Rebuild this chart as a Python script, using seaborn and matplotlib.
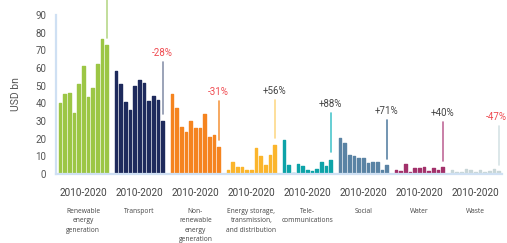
import pandas as pd
import seaborn as sns
import matplotlib.pyplot as plt
import matplotlib.transforms as mtransforms

years = list(range(2010, 2021))
sectors = [
    "Renewable\nenergy\ngeneration",
    "Transport",
    "Non-\nrenewable\nenergy\ngeneration",
    "Energy storage,\ntransmission,\nand distribution",
    "Tele-\ncommunications",
    "Social",
    "Water",
    "Waste",
]
renewable = [40, 45.5, 46, 34.5, 51, 61, 43.5, 48.5, 62, 76.5, 73]
transport = [58.5, 51, 40.5, 36.5, 50, 53, 51.5, 41.5, 44, 42, 30]
non_renewable = [45.5, 37.5, 26.5, 23.5, 30, 26, 26, 34, 21, 22, 15.5]
energy_storage = [2, 7, 4, 4, 2, 2, 15, 10, 5, 10.5, 16.5]
telecom = [19, 5, 0.5, 5.5, 4.5, 2.5, 1.5, 3, 7, 4.5, 8]
social = [20.5, 17.5, 11, 10, 9, 9, 6, 7, 7, 2.5, 5]
water = [2, 1.5, 5.5, 1, 3.5, 3.5, 4, 1.5, 3.5, 2.5, 4]
waste = [2, 1, 1, 3, 2, 1, 2, 1, 1.5, 3, 1.5]
changes = ["", "-28%", "-31%", "+56%", "+88%", "+71%", "+40%", "-47%"]
period = "2010-2020"

series = [renewable, transport, non_renewable, energy_storage, telecom, social, water, waste]

# annotation line extents (bottom, top) in USD bn
line_ext = [(77, 115), (34, 63.5), (19, 41.5), (20.5, 42), (12.5, 34.5), (8.5, 30.5), (7.5, 29.6), (5.3, 27)]

bar_colors = ["#9cc645", "#1e2a5c", "#f5841f", "#fbb52c", "#0da3a8", "#5a83a4", "#a2316b", "#c8d6d8"]
line_colors = ["#b8d88a", "#8a93ab", "#f59a45", "#fdd98a", "#4cc6cc", "#5a83a4", "#c06a98", "#d6e3e5"]

rows = []
for g, (name, vals) in enumerate(zip(sectors, series)):
    for i, (yr, v) in enumerate(zip(years, vals)):
        rows.append({"sector": name, "year": yr, "pos": g * 12 + i, "value": v})
df = pd.DataFrame(rows)

sns.set_style("white")
plt.rcParams["font.family"] = ["Roboto", "DejaVu Sans"]

fig, ax = plt.subplots(figsize=(5.07, 2.43), dpi=100)
fig.subplots_adjust(left=56 / 507, right=502 / 507, bottom=69 / 243, top=228 / 243)

sns.barplot(data=df, x="pos", y="value", hue="sector", palette=bar_colors,
            native_scale=True, dodge=False, width=0.55, errorbar=None,
            saturation=1, legend=False, ax=ax)
for p in ax.patches:
    p.set_edgecolor(p.get_facecolor())
    p.set_linewidth(1.0)
    p.set_joinstyle("round")

ax.set_xlim(-0.85, 94.7)
ax.set_ylim(0, 90)
ax.set_yticks(range(0, 91, 10))
ax.set_xticks([])
ax.set_xlabel("")
ax.set_ylabel("USD bn", fontsize=7.5, color="#555555", labelpad=10)
ax.tick_params(axis="y", length=0, labelsize=7, labelcolor="#555555", pad=7)
for s in ["top", "right"]:
    ax.spines[s].set_visible(False)
for s in ["left", "bottom"]:
    ax.spines[s].set_color("#cfe0f3")
    ax.spines[s].set_linewidth(1.6)
ax.spines["left"].set_bounds(0, 90)

trans = mtransforms.blended_transform_factory(ax.transData, ax.transAxes)
for g, name in enumerate(sectors):
    xc = g * 12 + 5
    xl = g * 12 + 10
    lo, hi = line_ext[g]
    ax.plot([xl, xl], [lo, hi], color=line_colors[g], lw=1.2, clip_on=False, zorder=3)
    if changes[g]:
        col = "#ef4a50" if changes[g].startswith("-") else "#444444"
        tx = xl if g < len(sectors) - 1 else xl - 0.5
        ax.text(tx, hi + 2.2, changes[g], ha="center", va="bottom",
                fontsize=7, color=col)
    ax.text(xc, -0.12, period, transform=trans, ha="center", va="center",
            fontsize=7.2, color="#444444")
    ax.text(xc, -0.215, name, transform=trans, ha="center", va="top",
            fontsize=4.8, color="#444444", linespacing=1.45,
            family=["Open Sans", "DejaVu Sans"])

plt.savefig("out.png", dpi=100)
plt.close()
